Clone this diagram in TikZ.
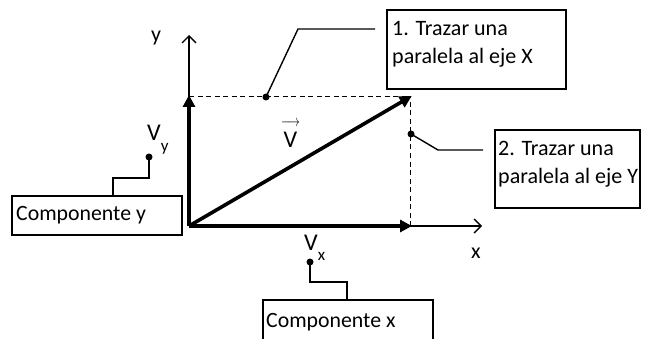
\documentclass[tikz,border=0pt]{standalone}
\usepackage{fontspec}
\setmainfont{Carlito}
\usetikzlibrary{arrows.meta}
\begin{document}
\begin{tikzpicture}[x=1pt,y=-1pt,
  thinax/.style={line width=1.3pt,-{Straight Barb[length=7pt,width=14pt]}},
  thickvec/.style={line width=3.6pt,-{Triangle[length=12pt,width=12pt]}, shorten >=-2pt},
  guide/.style={line width=1pt,dash pattern=on 5pt off 3.5pt},
  lead/.style={line width=1.4pt},
  dotc/.style={circle,fill=black,inner sep=0pt,minimum size=7pt},
  lbl/.style={font=\fontsize{22}{28}\selectfont,inner sep=0pt},
  vl/.style={font=\fontsize{24}{28}\selectfont,inner sep=0pt,anchor=base west},
  comp/.style={font=\fontsize{21.8}{28}\selectfont,inner sep=0pt,anchor=base west},
  boxtxt/.style={font=\fontsize{22}{28.5}\selectfont,inner sep=0pt,anchor=north west,align=left}]
\useasboundingbox (0,0) rectangle (652,339);
% axes
\coordinate (O) at (189,226);
\coordinate (ytop) at (189,35);
\coordinate (xend) at (482,226);
\coordinate (Pv) at (410,97);
\coordinate (Py) at (189,97);
\coordinate (Px) at (410,226);
\draw[thinax] (O) -- (ytop);
\draw[thinax] (O) -- (xend);
\draw[guide] (Py) -- (Pv);
\draw[guide] (Px) -- (Pv);
\draw[thickvec] (O) -- (Py);
\draw[thickvec] (O) -- (Px);
\draw[thickvec] (O) -- (Pv);
% labels
\node[lbl] (ylab) at (156,38) {y};
\node[lbl] (xlab) at (476,253) {x};
\node[vl,anchor=base] (vlab) at (290.5,147) {\shortstack{\resizebox{19pt}{6pt}{$\longrightarrow$}\\[2pt]V}};
\node[vl] (vylab) at (147,141) {V\raisebox{-10pt}{\fontsize{17}{18}\selectfont y}};
\node[vl] (vxlab) at (304,250) {V\raisebox{-10pt}{\fontsize{17}{18}\selectfont x}};
% Componente y
\draw[lead] (12,196) rectangle (182,235);
\node[comp] (cy) at (16,220) {Componente y};
\node[dotc] (dy) at (149,157) {};
\draw[lead] (dy.center) -- (149,178) -- (113,178) -- (113,196);
% Componente x
\draw[lead] (263,300) rectangle (433,345);
\node[comp] (cx) at (266,327) {Componente x};
\node[dotc] (dx) at (310,262) {};
\draw[lead] (dx.center) -- (310,282) -- (347,282) -- (347,300);
% Box 1
\draw[lead] (387,10) rectangle (566,89);
\node[boxtxt] (b1) at (392,21) {1. Trazar una\\paralela al eje X};
\node[dotc] (d1) at (266,97) {};
\draw[lead] (d1.center) -- (298,29) -- (375,29);
% Box 2
\draw[lead] (495,130) rectangle (640,208);
\node[boxtxt] (b2) at (498,141) {2. Trazar una\\paralela al eje Y};
\node[dotc] (d2) at (411,134) {};
\draw[lead] (d2.center) -- (438,150) -- (483,150);
\end{tikzpicture}
\end{document}
